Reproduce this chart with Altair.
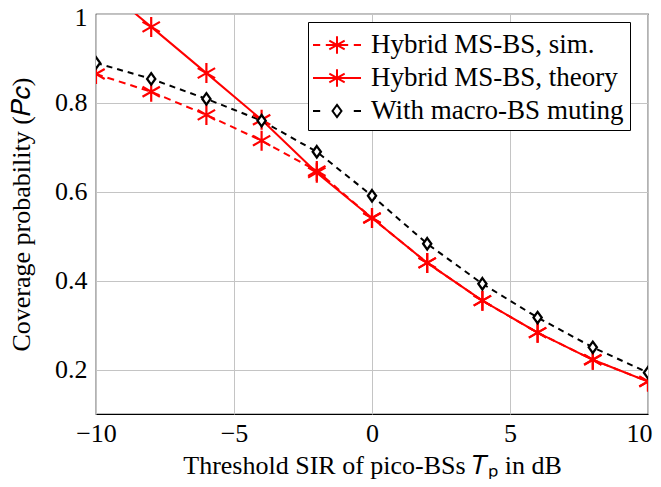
import altair as alt
import pandas as pd

x_vals = [-10, -8, -6, -4, -2, 0, 2, 4, 6, 8, 10]
sim_vals = [0.865, 0.825, 0.773, 0.715, 0.647, 0.541, 0.44, 0.355, 0.283, 0.222, 0.173]
theory_vals = [1.075, 0.971, 0.867, 0.762, 0.643, 0.541, 0.44, 0.355, 0.283, 0.222, 0.173]
muting_vals = [0.89, 0.854, 0.809, 0.76, 0.69, 0.591, 0.483, 0.393, 0.317, 0.25, 0.193]
series_names = ["Hybrid MS-BS, sim.", "Hybrid MS-BS, theory", "With macro-BS muting"]
series_colors = ["#ff0000", "#ff0000", "#000000"]

rows = []
for name, vals in zip(series_names, [sim_vals, theory_vals, muting_vals]):
    for xv, yv in zip(x_vals, vals):
        rows.append({"series": name, "x": xv, "y": yv})
df = pd.DataFrame(rows)

FONT = "Liberation Serif"
STAR = "M0,-1V1M-0.87,-0.5L0.87,0.5M-0.87,0.5L0.87,-0.5"
DIAMOND = "M0,-1L0.72,0L0,1L-0.72,0Z"
# legend symbols: unit = 16 px (symbolSize 1024), spanning x in [-1.5, 1.5]
LEG_STAR = "M0,-0.55V0.55M-0.48,-0.28L0.48,0.28M-0.48,0.28L0.48,-0.28"
leg_paths = [
    "M-1.5,0H-1.05M-0.7,0H0.7M1.05,0H1.5" + LEG_STAR,
    "M-1.5,0H1.5" + LEG_STAR,
    "M-1.5,0H-1.05M1.05,0H1.5M0,-0.38L0.28,0L0,0.38L-0.28,0Z",
]

xenc = alt.X("x:Q", scale=alt.Scale(domain=[-10, 10], nice=False),
             axis=alt.Axis(values=[-10, -5, 0, 5, 10], title="Threshold SIR of pico-BSs 𝑇ₚ in dB",
                           labelAlign={"condition": {"test": "datum.value == 10", "value": "right"},
                                       "value": "center"},
                           labelOffset={"condition": {"test": "datum.value == 10", "value": 4},
                                        "value": 0}))
yenc = alt.Y("y:Q", scale=alt.Scale(domain=[0.1, 1], nice=False, zero=False),
             axis=alt.Axis(values=[0.2, 0.4, 0.6, 0.8, 1.0],
                           labelExpr="datum.value == 1 ? '1' : format(datum.value, '.1f')",
                           labelOffset={"condition": {"test": "datum.value == 1", "value": 3},
                                        "value": 0},
                           title="Coverage probability (𝑃𝑐)"))

base = alt.Chart(df)

line_sim = base.transform_filter(alt.datum.series == series_names[0]).mark_line(
    color="#ff0000", strokeWidth=2, strokeDash=[7, 5], clip=True).encode(x=xenc, y=yenc)
line_th = base.transform_filter(alt.datum.series == series_names[1]).mark_line(
    color="#ff0000", strokeWidth=2, clip=True).encode(x=xenc, y=yenc)
line_mu = base.transform_filter(alt.datum.series == series_names[2]).mark_line(
    color="#000000", strokeWidth=2, strokeDash=[6, 5], clip=True).encode(x=xenc, y=yenc)

stars = base.transform_filter(alt.datum.series != series_names[2]).mark_point(
    shape=STAR, size=400, color="#ff0000", strokeWidth=2.2, filled=False, opacity=1, clip=True
).encode(x=xenc, y=yenc)
diamonds = base.transform_filter(alt.datum.series == series_names[2]).mark_point(
    shape=DIAMOND, size=130, stroke="#000000", fill="#ffffff", strokeWidth=2.3, filled=True, opacity=1, clip=True
).encode(x=xenc, y=yenc)

legend_layer = base.transform_filter("false").mark_point(filled=False, opacity=1).encode(
    x=xenc, y=yenc,
    color=alt.Color("series:N", scale=alt.Scale(domain=series_names, range=series_colors),
                    legend=alt.Legend(title=None)),
    shape=alt.Shape("series:N", scale=alt.Scale(domain=series_names, range=leg_paths),
                    legend=alt.Legend(title=None)),
)

chart = alt.layer(line_sim, line_th, line_mu, stars, diamonds, legend_layer).properties(
    width=552, height=400,
    autosize=alt.AutoSizeParams(type="none"),
    padding={"left": 88, "top": 6, "right": 5, "bottom": 65},
).configure_view(stroke="#000000", strokeWidth=1.2).configure_axis(
    labelFont=FONT, titleFont=FONT, labelFontSize=26, titleFontSize=26,
    labelColor="#000000", titleColor="#000000", titleFontWeight="normal",
    grid=True, gridColor="#c4c4c4", gridWidth=1, domain=False, ticks=False,
    labelFlush=False,
).configure_axisX(labelPadding=6, titlePadding=6, labelFont=FONT, titleFont=FONT).configure_axisY(
    labelPadding=9, titlePadding=20, labelFont=FONT, titleFont=FONT
).configure_legend(
    orient="none", legendX=212, legendY=8,
    labelFont=FONT, labelFontSize=27, labelColor="#000000", labelLimit=500,
    symbolSize=1024, symbolStrokeWidth=2, symbolFillColor="transparent",
    symbolOffset=6, strokeColor="#000000", fillColor="#ffffff", padding=6, rowPadding=3,
    labelOffset=17, cornerRadius=0,
)

chart.save("out.html", embed_options={"renderer": "svg", "actions": False})
